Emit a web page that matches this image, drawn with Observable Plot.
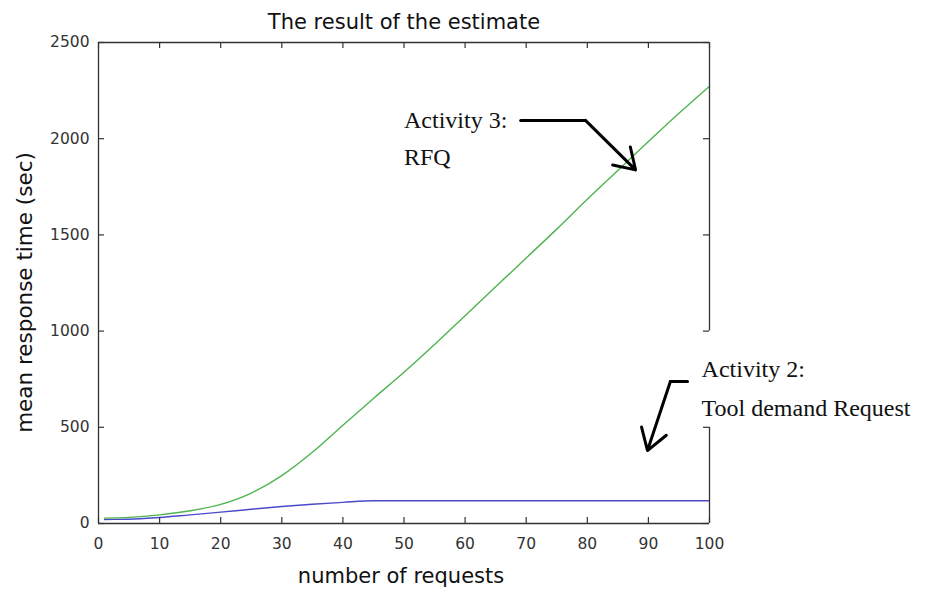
<!DOCTYPE html>
<html><head><meta charset="utf-8">
<script src="https://cdn.jsdelivr.net/npm/d3@7"></script>
<script src="https://cdn.jsdelivr.net/npm/@observablehq/plot@0.6"></script>
<style>body{margin:0;background:#fff} #chart{width:935px;height:590px}</style>
</head><body><div id="chart"></div>
<script>
// ---- data ----
const titleText = ["The result of the estimate"];
const xLabel = ["number of requests"];
const yLabel = ["mean response time (sec)"];
const xTicks = [0, 10, 20, 30, 40, 50, 60, 70, 80, 90, 100];
const yTicks = [0, 500, 1000, 1500, 2000, 2500];
const requests = [1, 5, 10, 15, 20, 25, 30, 35, 40, 45, 50, 55, 60, 65, 70, 75, 80, 85, 90, 95, 100];
const activity3RFQ = [28, 32, 45, 66, 99, 158, 249, 370, 511, 650, 786, 930, 1080, 1230, 1380, 1530, 1685, 1835, 1985, 2132, 2273];
const activity2Tool = [21, 22, 31, 45, 59, 74, 88, 100, 110, 118, 118, 118, 118, 118, 118, 118, 118, 118, 118, 118, 118];
// right border of the box is interrupted behind the Activity 2 label
const rightBorderSegments = [[0, 500], [1000, 2500]];
// annotation labels (data coordinates)
const note3 = [{x: 50, y: 2093, text: "Activity 3:"}, {x: 50, y: 1901, text: "RFQ"}];
const note2 = [{x: 98.7, y: 800, text: "Activity 2:"}, {x: 98.7, y: 601, text: "Tool demand Request"}];
// annotation arrows (data coordinates): tail segment then arrow
const arrow3Tail = [{x: 69.1, y: 2095}, {x: 79.7, y: 2095}];
const arrow3 = [{x1: 79.7, y1: 2095, x2: 87.9, y2: 1838}];
const arrow2Tail = [{x: 96.4, y: 738}, {x: 93.6, y: 738}];
const arrow2 = [{x1: 93.6, y1: 738, x2: 89.85, y2: 379}];

// ---- layout ----
const W = 935, H = 590, mL = 98, mR = 226, mT = 42, mB = 67;
const frameW = W - mL - mR, frameH = H - mT - mB;
const axisColor = "#333";
const green = "#4fb34f", blue = "#4a4acc";
const pts = (xs, ys) => xs.map((x, i) => ({x, y: ys[i]}));

const chart = Plot.plot({
  width: W, height: H,
  marginLeft: mL, marginRight: mR, marginTop: mT, marginBottom: mB,
  x: {domain: [0, 100], label: null},
  y: {domain: [0, 2500], label: null},
  style: {fontFamily: "'DejaVu Sans', sans-serif", fontSize: "15.5px", background: "#fff", color: "#333"},
  marks: [
    Plot.line(pts(requests, activity2Tool), {x: "x", y: "y", stroke: blue, strokeWidth: 1.4, curve: "monotone-x"}),
    Plot.line(pts(requests, activity3RFQ), {x: "x", y: "y", stroke: green, strokeWidth: 1.4, curve: "monotone-x"}),
    // box
    Plot.ruleY([0, 2500], {y: d => d, stroke: axisColor, strokeWidth: 1.3}),
    Plot.ruleX([0], {x: d => d, stroke: axisColor, strokeWidth: 1.3}),
    Plot.ruleX(rightBorderSegments, {x: () => 100, y1: d => d[0], y2: d => d[1], stroke: axisColor, strokeWidth: 1.3}),
    // inward ticks
    Plot.ruleX(xTicks, {x: d => d, insetTop: frameH - 6, stroke: axisColor, strokeWidth: 1.2}),
    Plot.ruleX(xTicks, {x: d => d, insetBottom: frameH - 6, stroke: axisColor, strokeWidth: 1.2}),
    Plot.ruleY(yTicks, {y: d => d, insetRight: frameW - 6, stroke: axisColor, strokeWidth: 1.2}),
    Plot.ruleY(yTicks, {y: d => d, insetLeft: frameW - 6, stroke: axisColor, strokeWidth: 1.2}),
    // tick labels
    Plot.axisX(xTicks, {tickSize: 0, tickPadding: 14.5, label: null, fill: "#333", fontSize: 15.5, tickFormat: d => String(d)}),
    Plot.axisY(yTicks, {tickSize: 0, tickPadding: 9, label: null, fill: "#333", fontSize: 15.5, tickFormat: d => String(d)}),
    // titles
    Plot.text(titleText, {text: d => d, frameAnchor: "top", textAnchor: "middle", lineAnchor: "middle", dy: -20.7, fontSize: 21, fill: "#111"}),
    Plot.text(xLabel, {text: d => d, frameAnchor: "bottom", textAnchor: "middle", lineAnchor: "middle", dx: -3, dy: 52.3, fontSize: 21, fill: "#111"}),
    Plot.text(yLabel, {text: d => d, frameAnchor: "left", textAnchor: "middle", lineAnchor: "middle", dx: -73, dy: 9.5, rotate: -90, fontSize: 21.5, fill: "#111"}),
    // annotations
    Plot.text(note3, {x: "x", y: "y", text: "text", textAnchor: "start", fontFamily: "'Liberation Serif', 'Times New Roman', serif", fontSize: 24, fill: "#111"}),
    Plot.text(note2, {x: "x", y: "y", text: "text", textAnchor: "start", fontFamily: "'Liberation Serif', 'Times New Roman', serif", fontSize: 24, fill: "#111"}),
    Plot.line(arrow3Tail, {x: "x", y: "y", stroke: "#000", strokeWidth: 3}),
    Plot.arrow(arrow3, {x1: "x1", y1: "y1", x2: "x2", y2: "y2", stroke: "#000", strokeWidth: 3, headLength: 15, headAngle: 65}),
    Plot.line(arrow2Tail, {x: "x", y: "y", stroke: "#000", strokeWidth: 3}),
    Plot.arrow(arrow2, {x1: "x1", y1: "y1", x2: "x2", y2: "y2", stroke: "#000", strokeWidth: 3, headLength: 15, headAngle: 65})
  ]
});
document.getElementById("chart").appendChild(chart);
</script>
</body></html>
